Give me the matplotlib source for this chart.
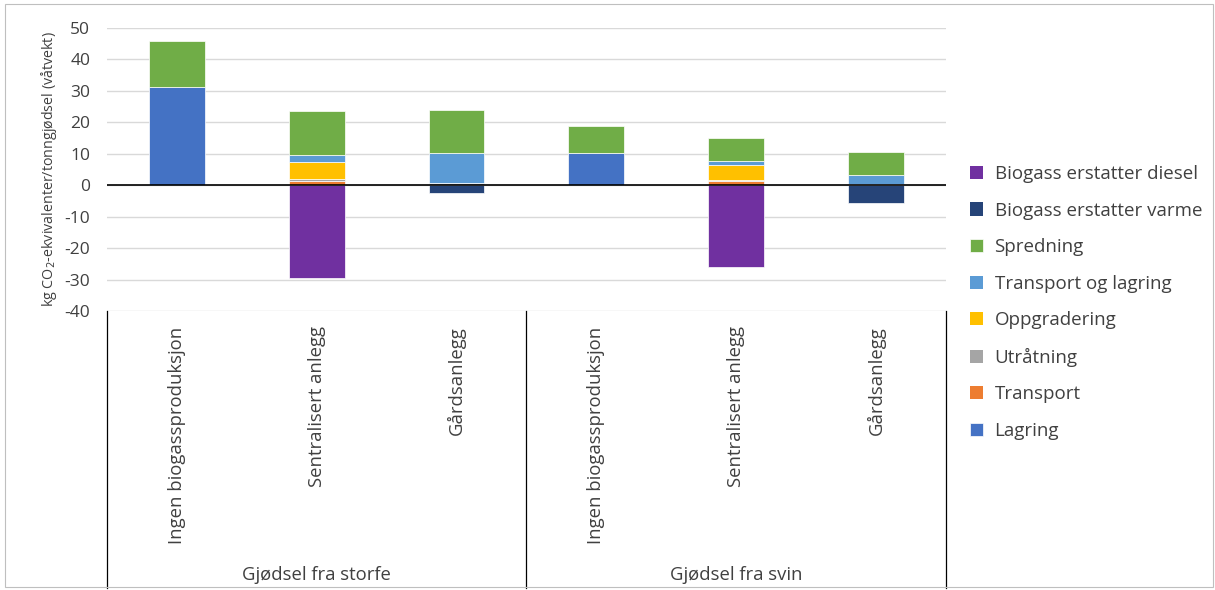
import numpy as np
import matplotlib.pyplot as plt
from matplotlib.patches import Rectangle

plt.rcParams['font.family'] = ['Open Sans', 'DejaVu Sans']
plt.rcParams['axes.unicode_minus'] = False

categories = ['Ingen biogassproduksjon', 'Sentralisert anlegg', 'Gårdsanlegg',
              'Ingen biogassproduksjon', 'Sentralisert anlegg', 'Gårdsanlegg']
groups = ['Gjødsel fra storfe', 'Gjødsel fra svin']

# stacking order (bottom to top)
series = ['Lagring', 'Transport', 'Utråtning', 'Oppgradering',
          'Transport og lagring', 'Spredning', 'Biogass erstatter varme',
          'Biogass erstatter diesel']
lagring = [31.3, 0, 0, 10.3, 0, 0]
transport = [0, 1.3, 0, 0, 1.3, 0]
utratning = [0, 0.7, 0.8, 0, 0.5, 0.5]
oppgradering = [0, 5.3, 0, 0, 4.7, 0]
transport_lagring = [0, 2.2, 9.4, 0, 1.2, 2.9]
spredning = [14.5, 14.1, 13.7, 8.5, 7.4, 7.3]
erstatter_varme = [0, 0, -2.4, 0, 0, -5.8]
erstatter_diesel = [0, -29.4, 0, 0, -26.0, 0]

colors = ['#4472C4', '#ED7D31', '#A5A5A5', '#FFC000', '#5B9BD5', '#70AD47',
          '#264478', '#7030A0']

values = [lagring, transport, utratning, oppgradering, transport_lagring,
          spredning, erstatter_varme, erstatter_diesel]

fig = plt.figure(figsize=(12.15, 5.9), dpi=100)
ax = fig.add_axes([0.088, 0.4729, 0.6905, 0.4797])

x = np.arange(len(categories))
pos_bottom = np.zeros(len(categories))
neg_bottom = np.zeros(len(categories))
handles = []
for name, vals, col in zip(series, values, colors):
    vals = np.array(vals, dtype=float)
    bottom = np.where(vals >= 0, pos_bottom, neg_bottom)
    lw = np.where(vals != 0, 0.5, 0)
    h = ax.bar(x, vals, 0.4, bottom=bottom, color=col, edgecolor='white',
               linewidth=lw, label=name, zorder=3)
    handles.append(h)
    pos_bottom += np.where(vals > 0, vals, 0)
    neg_bottom += np.where(vals < 0, vals, 0)

ax.set_xlim(-0.5, 5.5)
ax.set_ylim(-40, 50)
ax.set_yticks(np.arange(-40, 51, 10))
ax.yaxis.grid(True, color='#D9D9D9', linewidth=1, zorder=0)
ax.axhline(0, color='black', linewidth=1.2, zorder=4)
for s in ['top', 'right', 'left', 'bottom']:
    ax.spines[s].set_visible(False)
ax.tick_params(axis='y', length=0, labelsize=12.5, labelcolor='#404040', pad=12)
ax.set_xticks(x)
ax.set_xticklabels(categories, rotation=90, fontsize=13.3, color='#404040',
                   va='top', ha='center')
ax.tick_params(axis='x', length=0, pad=11)

ax.set_ylabel('kg CO$_2$-ekvivalenter/tonngjødsel (våtvekt)', fontsize=10.3,
              color='#404040', labelpad=4)

# group separators and labels below the axis
for xs in [-0.5, 2.5, 5.5]:
    ax.plot([xs, xs], [-40, -40 - 277 / 3.145], color='black', linewidth=0.9,
            clip_on=False)
for i, g in enumerate(groups):
    ax.text(1 + 3 * i, -40 - 264 / 3.145, g, ha='center', va='center',
            fontsize=13.3, color='#404040')

leg = ax.legend(handles[::-1], series[::-1], loc='center left',
                bbox_to_anchor=(1.02, 0.03), frameon=False, fontsize=13.5,
                labelspacing=0.99, handlelength=0.7, handleheight=0.7,
                handletextpad=0.6, labelcolor='#404040', borderaxespad=0)

fig.patches.append(Rectangle((0.004, 0.005), 0.994, 0.989, transform=fig.transFigure,
                             fill=False, edgecolor='#BFBFBF', linewidth=0.8))

fig.savefig('out.png', dpi=100)
